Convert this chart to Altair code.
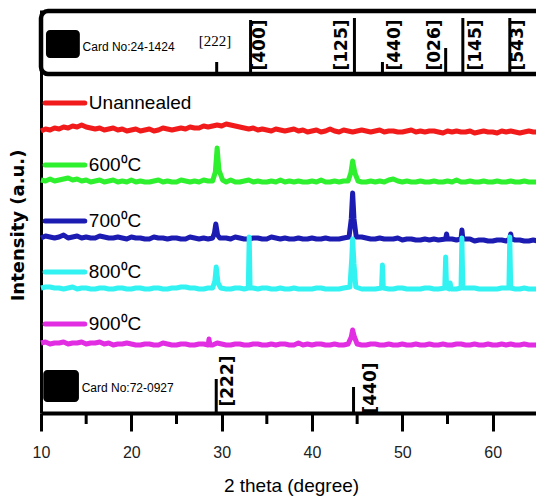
import altair as alt
import pandas as pd

# ---------------- data (intensity in arbitrary units, stacked) ----------------
x_grid = [v / 2 for v in range(20, 131)]  # 10.0 .. 65.0 step 0.5

series_names = ["Unannealed", "600⁰C", "700⁰C", "800⁰C", "900⁰C"]
series_colors = ["#f21b1b", "#2ff02f", "#1c1cb2", "#33f2f2", "#e22ee2"]
series_offsets = [282, 231, 174, 124, 68]
legend_y = [310, 248, 192, 141, 89]

red_noise = [0, 2, 1, 3, 2, 4, 3, 5, 4, 6, 4, 3, 2, 3, 1, 2, 3, 1, 2, 0,
             1, 2, 0, 1, 2, 0, 1, 3, 2, 1, 2, 3, 2, 4, 3, 3, 5, 4, 5, 6,
             5, 7, 6, 5, 4, 3, 2, 3, 1, 2, 1, 0, 2, 1, 0, 1, 2, 0, 1, -1,
             0, 1, -1, 0, 2, 0, -1, 1, 0, -1, 0, 1, 0, -1, 0, 1, -1, 0, 0, -1,
             -1, 0, 1, -1, 0, -1, 0, 0, -1, -2, 0, -1, 0, -1, -1, 0, -2, -1, 0, -1,
             -1, -2, 0, -1, 0, -1, -2, -1, 0, -1, -1]
green_noise = [2, 1, 3, 1, 2, 3, 4, 2, 3, 1, 2, 0, 1, 2, 0, 1, 2, 0, 1, 0,
               2, 0, 1, 0, 0, 1, 2, 0, 1, 0, 0, 2, 1, 0, 1, 0, 2, 1, 2, 3,
               1, 0, 2, 0, 0, 1, 2, 0, 1, 0, 0, 1, 0, 2, 0, 1, 0, 1, 0, 0,
               1, 0, 2, 0, 0, 1, 0, 1, 1, 2, 1, 0, 0, 1, 0, 1, 0, 2, 3, 1,
               0, 1, 0, 0, 1, 0, 0, 1, 0, 0, 1, 0, 2, 0, 0, 1, 0, 0, 1, 0,
               0, 1, 0, 0, 1, 0, 0, 1, 0, 0, 0]
blue_noise = [1, 3, 2, 1, 2, 4, 1, 2, 3, 1, 2, 1, 1, 3, 2, 1, 1, 2, 1, 0,
              2, 1, 1, 0, 0, 2, 1, 1, 0, 1, 1, 0, 0, 2, 1, 0, 1, 0, 1, 0,
              0, 1, 0, 2, 1, 0, 0, 1, 1, 0, 0, 2, 1, 0, 1, 0, 0, 1, 0, 0,
              1, 0, 0, 1, 0, 0, 0, 1, 1, 0, 0, 2, 1, 0, 0, 1, 0, 0, 0, 1,
              -1, 0, 0, -1, -1, 0, -1, 0, -1, -1, -1, 0, -1, -1, -1, 0, -2, -1, -1, -2,
              -2, -1, -1, -2, -2, -1, -1, -2, -2, -1, -2]
cyan_noise = [1, 2, 2, 1, 1, 0, 1, 2, 0, 1, 1, 0, 0, 1, 1, 0, 0, 1, 1, 0,
              0, 1, 1, 0, 0, 1, 1, 0, 0, 1, 1, 2, 2, 1, 1, 0, 0, 1, 1, 0,
              0, 0, 0, 1, 1, 0, 0, 1, 0, 1, 1, 0, 0, 1, 0, 0, 1, 0, 0, 0,
              0, 1, 1, 0, 0, 0, 0, 1, 1, 0, 1, 0, 0, 0, 0, 1, 0, 0, 0, 1,
              1, 0, 0, 0, 0, 1, 1, 0, 0, 0, 0, 1, 0, 0, 0, 1, 1, 0, 0, 0,
              0, 0, 1, 0, 0, 0, 0, 1, 0, 0, 0]
magenta_noise = [2, 3, 1, 2, 2, 3, 1, 2, 2, 3, 1, 2, 2, 3, 1, 2, 0, 1, 1, 2,
                 1, 0, 0, 1, 1, 0, 0, 2, 1, 0, 0, 1, 1, 0, 0, 1, 1, 0, 0, 2,
                 1, 0, 0, 1, 1, 0, 0, 1, 1, 0, 0, 1, 0, 1, 1, 0, 0, 2, 0, 1,
                 0, 1, 1, 0, 0, 1, 0, 0, 0, 1, 0, 0, 0, 1, 1, 0, 0, 1, 0, 0,
                 1, 0, 0, 1, 0, 0, 1, 0, 0, 1, 0, 0, 1, 1, 0, 0, 1, 0, 0, 1,
                 0, 0, 1, 0, 1, 0, 0, 1, 0, 0, 0]
series_noise = [red_noise, green_noise, blue_noise, cyan_noise, magenta_noise]

red_peaks = []
green_peaks = [(29.0, 1), (29.3, 10), (29.5, 34), (29.7, 12), (30.1, 2),
               (44.0, 1), (44.3, 9), (44.5, 21), (44.75, 9), (45.1, 1)]
blue_peaks = [(29.0, 1), (29.2, 6), (29.35, 15), (29.55, 4), (29.8, 1),
              (44.1, 2), (44.35, 20), (44.5, 46), (44.65, 20), (44.9, 2),
              (54.8, 0), (54.9, 5), (55.0, 0),
              (56.5, 0), (56.6, 9), (56.7, 0),
              (61.9, 0), (62.0, 5), (62.1, 0)]
cyan_peaks = [(29.0, 1), (29.25, 8), (29.4, 22), (29.6, 6), (29.9, 1),
              (32.95, 1), (33.05, 52), (33.15, 1),
              (44.2, 2), (44.4, 30), (44.5, 50), (44.65, 25), (44.85, 2),
              (47.7, 1), (47.8, 24), (47.9, 1),
              (54.7, 1), (54.8, 32), (54.9, 1),
              (55.2, 0), (55.3, 6), (55.4, 0),
              (56.5, 1), (56.6, 51), (56.7, 1),
              (61.8, 1), (61.9, 52), (62.0, 1)]
magenta_peaks = [(28.5, 0), (28.6, 6), (28.7, 0),
                 (44.0, 1), (44.35, 8), (44.5, 15), (44.7, 8), (45.0, 1)]
series_peaks = [red_peaks, green_peaks, blue_peaks, cyan_peaks, magenta_peaks]

# reference cards (stick patterns)
top_card_pos = [29.45, 33.2, 44.7, 47.8, 54.8, 56.7, 61.9]
top_card_top = [351, 393, 395, 351, 365, 395, 395]
top_card_base = 339
top_label_text = ["[400]", "[125]", "[440]", "[026]", "[145]", "[543]"]
top_label_x = [34.2, 43.3, 49.2, 53.6, 58.2, 62.8]
top_label_y = 368

bottom_card_pos = [29.4, 44.6]
bottom_card_top = [34, 26]
bottom_label_text = ["[222]", "[440]"]
bottom_label_x = [30.7, 46.5]
bottom_label_y = [32, 25]

card_names = ["Card No:24-1424", "Card No:72-0927"]
card_box_x = [10.55, 10.25]
card_box_x2 = [14.3, 14.2]
card_box_y = [355, 11]
card_box_y2 = [383, 43]
card_text_x = [14.6, 14.5]
card_text_y = [366, 25]

x_ticks = [10, 20, 30, 40, 50, 60]
x_minor = [15, 25, 35, 45, 55]

# ---------------- build tables ----------------
rows = []
for i, name in enumerate(series_names):
    off = series_offsets[i]
    pk = series_peaks[i]
    pk_x = [p[0] for p in pk]
    for xv, dv in zip(x_grid, series_noise[i]):
        if any(abs(xv - px) < 0.3 for px in pk_x):
            continue
        rows.append({"series": name, "order": i, "x": xv, "y": off + dv})
    for px, py in pk:
        rows.append({"series": name, "order": i, "x": px, "y": off + py})
traces = pd.DataFrame(rows).sort_values(["order", "x"])

legend = pd.DataFrame({"series": series_names, "y": legend_y,
                       "x1": [10.45] * 5, "x2": [14.85] * 5, "xt": [15.3] * 5})
top_sticks = pd.DataFrame({"x": top_card_pos, "y": [top_card_base] * len(top_card_pos),
                           "y2": top_card_top})
top_labels = pd.DataFrame({"x": top_label_x, "y": [top_label_y] * len(top_label_x),
                           "t": top_label_text})
bot_sticks = pd.DataFrame({"x": bottom_card_pos, "y": [0, 0], "y2": bottom_card_top})
bot_labels = pd.DataFrame({"x": bottom_label_x, "y": bottom_label_y, "t": bottom_label_text})
cards = pd.DataFrame({"name": card_names, "x": card_box_x, "x2": card_box_x2,
                      "y": card_box_y, "y2": card_box_y2,
                      "tx": card_text_x, "ty": card_text_y})
frame = pd.DataFrame({"x": [10], "x2": [75], "y": [top_card_base], "y2": [402]})
minor = pd.DataFrame({"x": x_minor, "y": [0] * len(x_minor), "y2": [-11] * len(x_minor)})

NARROW = "Liberation Sans Narrow, Arial Narrow, Liberation Sans, sans-serif"
BOLD = "DejaVu Sans"

X = alt.X("x:Q", scale=alt.Scale(domain=[10, 64.8], nice=False, zero=False),
          axis=alt.Axis(values=x_ticks, title="2 theta (degree)", grid=False,
                        domainWidth=4, domainColor="black", tickColor="black",
                        tickWidth=3, tickSize=18, labelFontSize=16, labelFont=NARROW,
                        labelColor="#222", labelPadding=13, titleFont=NARROW,
                        titleFontSize=19, titleFontWeight="normal", titleColor="black",
                        titlePadding=16, titleX=250, labelFlush=False))
Y = alt.Y("y:Q", scale=alt.Scale(domain=[0, 403], nice=False, zero=False),
          axis=alt.Axis(labels=False, ticks=False, grid=False, domainWidth=3,
                        domainColor="black", title="Intensity (a.u.)",
                        titleFont=BOLD, titleFontSize=18, titleFontWeight="bold",
                        titleColor="black", titleX=-23, titleY=215,
                        titleBaseline="middle", titleAngle=270))

color_scale = alt.Scale(domain=series_names, range=series_colors)

lines = alt.Chart(traces).mark_line(strokeWidth=5, strokeJoin="round").encode(
    x=X, y=Y,
    color=alt.Color("series:N", scale=color_scale, legend=None),
    detail="order:O", order="x:Q")

leg_lines = alt.Chart(legend).mark_rule(strokeWidth=5, strokeCap="round").encode(
    x="x1:Q", x2="x2:Q", y="y:Q",
    color=alt.Color("series:N", scale=color_scale, legend=None))
leg_text = alt.Chart(legend).mark_text(align="left", baseline="middle", font=NARROW,
                                       fontSize=19, color="black").encode(
    x="xt:Q", y="y:Q", text="series:N")

frame_rect = alt.Chart(frame).mark_rect(fillOpacity=0, stroke="black", strokeWidth=4.5,
                                        cornerRadius=7).encode(
    x="x:Q", x2="x2:Q", y="y:Q", y2="y2:Q")

sticks_top = alt.Chart(top_sticks).mark_rule(strokeWidth=3, color="black").encode(
    x="x:Q", y="y:Q", y2="y2:Q")
labels_top = alt.Chart(top_labels).mark_text(angle=270, align="center", baseline="middle",
                                             font=BOLD, fontWeight="bold", fontSize=17,
                                             color="black").encode(
    x="x:Q", y="y:Q", text="t:N")
label_222 = alt.Chart(pd.DataFrame({"x": [29.25], "y": [372], "t": ["[222]"]})).mark_text(
    align="center", baseline="middle", font="Liberation Serif", fontSize=15,
    color="black").encode(x="x:Q", y="y:Q", text="t:N")

sticks_bot = alt.Chart(bot_sticks).mark_rule(strokeWidth=3, color="black").encode(
    x="x:Q", y="y:Q", y2="y2:Q")
labels_bot = alt.Chart(bot_labels).mark_text(angle=270, align="center", baseline="middle",
                                             font=BOLD, fontWeight="bold", fontSize=17,
                                             color="black").encode(
    x="x:Q", y="y:Q", text="t:N")

card_boxes = alt.Chart(cards).mark_rect(color="black", cornerRadius=4).encode(
    x="x:Q", x2="x2:Q", y="y:Q", y2="y2:Q")
card_texts = alt.Chart(cards).mark_text(align="left", baseline="middle", font=NARROW,
                                        fontSize=12, color="black").encode(
    x="tx:Q", y="ty:Q", text="name:N")

minor_ticks = alt.Chart(minor).mark_rule(strokeWidth=3, color="black").encode(
    x="x:Q", y="y:Q", y2="y2:Q")

chart = alt.layer(
    lines, frame_rect, sticks_top, labels_top, label_222, sticks_bot, labels_bot,
    card_boxes, card_texts, leg_lines, leg_text, minor_ticks
).properties(
    width=495, height=403,
    autosize=alt.AutoSizeParams(type="none"),
    padding={"left": 41, "top": 10, "right": 0, "bottom": 89},
    background="white",
).configure_view(stroke=None)

chart.save("out.html", embed_options={"renderer": "svg", "actions": False})
